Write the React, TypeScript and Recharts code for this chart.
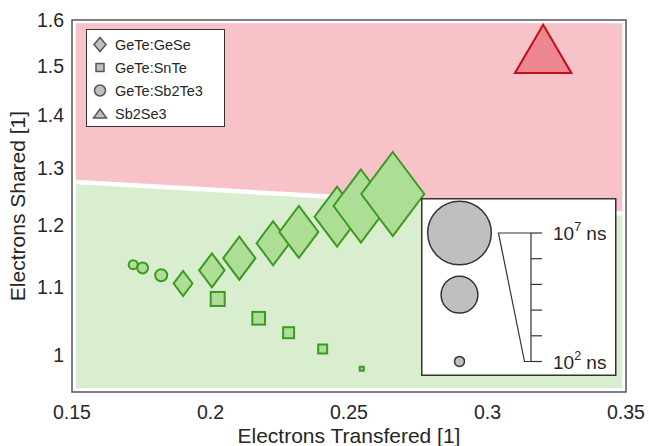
import React from "react";
import { ComposedChart, Area, Line, Scatter, XAxis, YAxis, ReferenceArea } from "recharts";

const FONT = "'Liberation Sans', Arial, Helvetica, sans-serif";
const TEXT = "#262626";
const GREEN_FILL = "#ADDE95";
const GREEN_STROKE = "#3C9A22";
const RED_FILL = "#EF8793";
const RED_STROKE = "#C0111F";

const xTicks = [0.15, 0.2, 0.25, 0.3, 0.35];
const yTicks = [1, 1.1, 1.2, 1.3, 1.4, 1.5, 1.6];

// GeTe:GeSe (diamonds), t = log10 of switching time in ns
const geseX = [0.1901, 0.2005, 0.2104, 0.2226, 0.2319, 0.2457, 0.2543, 0.2658];
const geseY = [1.106, 1.1266, 1.1459, 1.1702, 1.1889, 1.2146, 1.2329, 1.2538];
const geseT = [2.77, 3.41, 4.06, 4.13, 4.71, 5.28, 6.21, 7.0];

// GeTe:SnTe (squares)
const snteX = [0.2026, 0.2174, 0.2282, 0.2405, 0.2546];
const snteY = [1.0823, 1.0534, 1.0323, 1.009, 0.9815];
const snteT = [2.84, 2.67, 2.44, 2.17, 1.51];

// GeTe:Sb2Te3 (circles)
const sbteX = [0.1721, 0.1755, 0.1822];
const sbteY = [1.1355, 1.1304, 1.1188];
const sbteT = [1.91, 2.09, 2.19];

// Sb2Se3 (triangle)
const sbseX = [0.3201];
const sbseY = [1.5365];
const sbseT = [7.0];

// background regions: red above the boundary, green below
const regionX = [0.1514, 0.3487];
const boundaryY = [1.2751, 1.2201];
const regionBottom = 0.9553;
const regionTop = 1.5929;

// size key
const keyTimes = [7, 4.5, 2];
const keyTicks = [0, 1, 2, 3, 4, 5];

const toPoints = (xs: number[], ys: number[], ts: number[]) =>
  xs.map((x, i) => ({ x, y: ys[i], t: ts[i] }));

const gese = toPoints(geseX, geseY, geseT);
const snte = toPoints(snteX, snteY, snteT);
const sbte = toPoints(sbteX, sbteY, sbteT);
const sbse = toPoints(sbseX, sbseY, sbseT);

const region = regionX.map((x, i) => ({
  x,
  green: [regionBottom, boundaryY[i]],
  pink: [boundaryY[i], regionTop],
  edge: boundaryY[i],
}));

// marker radius grows linearly with log time
function sizeR(t: number) {
  return 5.5 + ((t - 2) / 5) * 26.8;
}

const DiamondShape = (p: any) => {
  const h = 1.3 * sizeR(p.payload.t);
  const w = 0.75 * h;
  const { cx, cy } = p;
  return (
    <path
      d={`M${cx},${cy - h}L${cx + w},${cy}L${cx},${cy + h}L${cx - w},${cy}Z`}
      fill={GREEN_FILL}
      stroke={GREEN_STROKE}
      strokeWidth={2}
    />
  );
};

const SquareShape = (p: any) => {
  const s = 1.4 * sizeR(p.payload.t);
  return (
    <rect
      x={p.cx - s / 2}
      y={p.cy - s / 2}
      width={s}
      height={s}
      fill={GREEN_FILL}
      stroke={GREEN_STROKE}
      strokeWidth={2}
    />
  );
};

const CircleShape = (p: any) => (
  <circle cx={p.cx} cy={p.cy} r={sizeR(p.payload.t) - 0.5} fill={GREEN_FILL} stroke={GREEN_STROKE} strokeWidth={2} />
);

const TriangleShape = (p: any) => {
  const r = sizeR(p.payload.t);
  const h = 1.5 * r;
  const w = 1.75 * r;
  const { cx, cy } = p;
  return (
    <path
      d={`M${cx},${cy - h / 2}L${cx + w / 2},${cy + h / 2}L${cx - w / 2},${cy + h / 2}Z`}
      fill={RED_FILL}
      stroke={RED_STROKE}
      strokeWidth={2}
    />
  );
};

function SeriesLegend() {
  const names = ["GeTe:GeSe", "GeTe:SnTe", "GeTe:Sb2Te3", "Sb2Se3"];
  const rowY = [15.5, 38.5, 61.5, 85];
  const mark = { fill: "#BFBFBF", stroke: "#555", strokeWidth: 1.5 };
  return (
    <svg style={{ position: "absolute", left: 86, top: 29 }} width={140} height={99}>
      <rect x={0.5} y={0.5} width={138} height={97} fill="#fff" stroke="#333" />
      <path d={`M14,${rowY[0] - 7}L20,${rowY[0]}L14,${rowY[0] + 7}L8,${rowY[0]}Z`} {...mark} />
      <rect x={10} y={rowY[1] - 4} width={8} height={8} {...mark} />
      <circle cx={14} cy={rowY[2]} r={5.5} {...mark} />
      <path d={`M14,${rowY[3] - 5}L20.5,${rowY[3] + 4}L7.5,${rowY[3] + 4}Z`} {...mark} />
      {names.map((n, i) => (
        <text key={n} x={29} y={rowY[i] + 5} fontSize={14.5} fontFamily={FONT} fill={TEXT}>
          {n}
        </text>
      ))}
    </svg>
  );
}

function SizeKey() {
  const top = 35;
  const step = 25.7;
  const bottom = top + step * 5;
  const circleY = [35, 96.7, 163.4];
  return (
    <svg style={{ position: "absolute", left: 421, top: 198 }} width={196} height={179}>
      <rect x={0.75} y={0.75} width={194} height={176.5} fill="#fff" stroke="#333" strokeWidth={1.5} />
      {keyTimes.map((t, i) => (
        <circle key={t} cx={38.5} cy={circleY[i]} r={sizeR(t) - 0.5} fill="#BFBFBF" stroke="#333" strokeWidth={1.5} />
      ))}
      <path
        d={`M110,${top}L77.5,${top}L103.5,${bottom}L110,${bottom}M110,${top}L110,${bottom}`}
        fill="none"
        stroke="#333"
        strokeWidth={1.2}
      />
      {keyTicks.map((k) => (
        <line key={k} x1={110} x2={121} y1={top + k * step} y2={top + k * step} stroke="#333" strokeWidth={1.2} />
      ))}
      {[
        { y: top, e: "7" },
        { y: bottom, e: "2" },
      ].map((l) => (
        <text key={l.e} x={132} y={l.y + 7} fontSize={19} fontFamily={FONT} fill={TEXT}>
          10
          <tspan fontSize={12.5} dy={-9}>
            {l.e}
          </tspan>
          <tspan dy={9}> ns</tspan>
        </text>
      ))}
    </svg>
  );
}

export default function App() {
  const tick = { fontSize: 19.5, fontFamily: FONT, fill: TEXT };
  return (
    <div style={{ position: "absolute", left: 0, top: 0, width: 649, height: 446, background: "#fff" }}>
      <ComposedChart width={649} height={446} margin={{ top: 20, right: 23, bottom: 24, left: 0 }}>
        <XAxis
          dataKey="x"
          type="number"
          domain={[0.15, 0.35]}
          ticks={xTicks}
          allowDataOverflow
          axisLine={false}
          tickLine={false}
          tickMargin={7}
          height={30}
          tick={tick}
          tickFormatter={(v: number) => String(v)}
          label={{
            content: (props: any) => {
              const vb = props.viewBox;
              return (
                <text x={vb.x + vb.width / 2} y={443} textAnchor="middle" fontSize={21} fontFamily={FONT} fill={TEXT}>
                  Electrons Transfered [1]
                </text>
              );
            },
          }}
        />
        <YAxis
          type="number"
          scale="log"
          domain={[0.95, 1.6]}
          ticks={yTicks}
          allowDataOverflow
          axisLine={false}
          tickLine={false}
          width={72}
          tick={tick}
          tickFormatter={(v: number) => String(v)}
          label={{
            content: (props: any) => {
              const vb = props.viewBox;
              const cy = vb.y + vb.height / 2;
              return (
                <text
                  x={25}
                  y={cy}
                  transform={`rotate(-90 25 ${cy})`}
                  textAnchor="middle"
                  fontSize={21}
                  fontFamily={FONT}
                  fill={TEXT}
                >
                  Electrons Shared [1]
                </text>
              );
            },
          }}
        />
        <Area data={region} dataKey="pink" type="linear" fill="#F8C2C9" fillOpacity={1} stroke="none" isAnimationActive={false} />
        <Area data={region} dataKey="green" type="linear" fill="#D9EECE" fillOpacity={1} stroke="none" isAnimationActive={false} />
        <Line data={region} dataKey="edge" type="linear" stroke="#fff" strokeWidth={4.5} dot={false} isAnimationActive={false} />
        <ReferenceArea x1={0.15} x2={0.35} y1={0.95} y2={1.6} fill="none" stroke="#555" strokeWidth={1.5} ifOverflow="visible" />
        <Scatter data={sbte} dataKey="y" shape={CircleShape} isAnimationActive={false} />
        <Scatter data={snte} dataKey="y" shape={SquareShape} isAnimationActive={false} />
        <Scatter data={gese} dataKey="y" shape={DiamondShape} isAnimationActive={false} />
        <Scatter data={sbse} dataKey="y" shape={TriangleShape} isAnimationActive={false} />
      </ComposedChart>
      <SeriesLegend />
      <SizeKey />
    </div>
  );
}
